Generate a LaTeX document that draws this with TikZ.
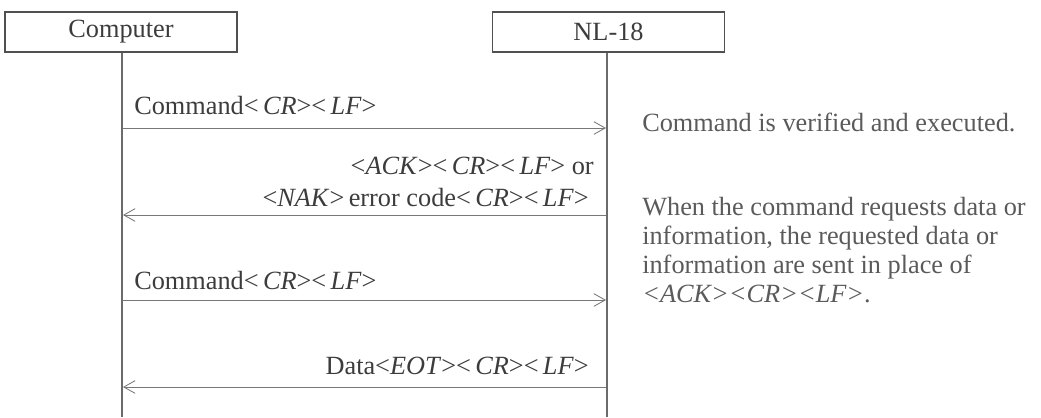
\documentclass[tikz,border=0pt]{standalone}
\usepackage{fontspec}
\setmainfont{Liberation Serif}
\usetikzlibrary{arrows.meta}
\definecolor{tinta}{HTML}{3C3C3C}
\definecolor{nota}{HTML}{5A5A5A}
\definecolor{linea}{HTML}{777777}

\begin{document}
\begin{tikzpicture}[x=0.025cm, y=-0.025cm,
    font=\fontsize{18.7}{22.7}\selectfont, text=tinta,
    actor/.style={draw=tinta!90, line width=0.8pt, minimum height=1cm, inner sep=0pt},
    vida/.style={draw=linea!90!black, line width=2pt},
    msg/.style={draw=linea, line width=0.6pt, -{Straight Barb[length=8pt, width=9pt, line width=0.6pt]}},
    etiq/.style={inner sep=0pt, anchor=base west},
    etiqd/.style={inner sep=0pt, anchor=base east}]
    \useasboundingbox (0,0) rectangle (1041,417);
    % Participantes
    \node[actor, minimum width=5.8cm] (comp) at (121,32) {Computer};
    \node[actor, minimum width=5.78cm] (nl) at (608.5,32) {NL-18};
    \coordinate (compfin) at (122,417);
    \coordinate (nlfin) at (607,417);
    \draw[vida] (comp.south -| compfin) -- (compfin);
    \draw[vida] (nl.south -| nlfin) -- (nlfin);
    % Puntos de los mensajes
    \foreach \y/\i in {128/1, 215/2, 300/3, 387/4} {
        \coordinate (c\i) at (123,\y);
        \coordinate (n\i) at (606,\y);
    }
    % Mensajes
    \draw[msg] (c1) -- (n1);
    \draw[msg] (n2) -- (c2);
    \draw[msg] (c3) -- (n3);
    \draw[msg] (n4) -- (c4);
    \node[etiq] (cmd1) at (134,114) {Command<\,\textit{CR}><\,\textit{LF}>};
    \node[etiqd] (ack) at (594,174) {<\textit{ACK}><\,\textit{CR}><\,\textit{LF}>\ or};
    \node[etiqd] (nak) at (589,206) {<\textit{NAK}>\,error code<\,\textit{CR}><\,\textit{LF}>};
    \node[etiq] (cmd2) at (134,289) {Command<\,\textit{CR}><\,\textit{LF}>};
    \node[etiqd] (dato) at (589,374) {Data<\textit{EOT}><\,\textit{CR}><\,\textit{LF}>};
    % Notas
    \node[etiq, text=nota] (verif) at (642,131) {Command is verified and executed.};
    \node[etiq, text=nota, align=left, font=\fontsize{18.7}{20.6}\selectfont] (resp) at (642,302)
        {When the command requests data or\\information, the requested data or\\information are sent in place of\\\textit{<ACK><CR><LF>}.};
\end{tikzpicture}
\end{document}
